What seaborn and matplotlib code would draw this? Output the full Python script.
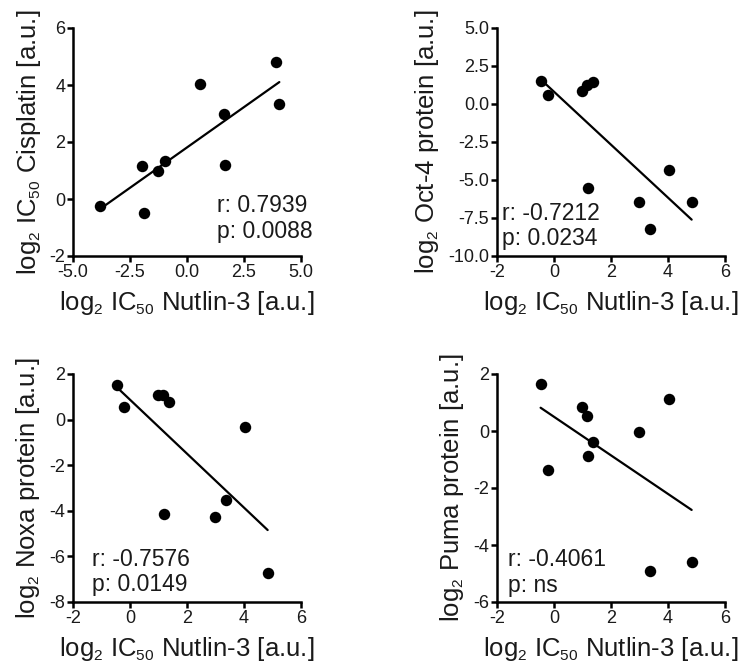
import matplotlib
matplotlib.use("Agg")
import matplotlib.pyplot as plt
import seaborn as sns
import numpy as np
import pandas as pd

try:
    import matplotlib._mathtext as _mt
    _mt.SHRINK_FACTOR = 0.6
except Exception:
    pass

# ---- data ----
x_cis = [-3.83, -1.98, -1.90, -1.26, -0.96, 0.56, 1.61, 1.66, 3.92, 4.05]
y_cis = [-0.24, 1.15, -0.49, 0.98, 1.35, 4.04, 3.00, 1.19, 4.82, 3.35]

x_nut = [-0.47, -0.22, 0.98, 1.15, 1.20, 1.37, 2.99, 3.36, 4.03, 4.83]
y_oct4 = [1.49, 0.57, 0.86, 1.25, -5.53, 1.45, -6.45, -8.25, -4.35, -6.45]
y_noxa = [1.53, 0.57, 1.06, 1.06, -4.15, 0.75, -4.25, -3.54, -0.31, -6.74]
y_puma = [1.66, -1.37, 0.84, 0.51, -0.87, -0.38, -0.04, -4.92, 1.13, -4.58]

ylabels = ["log$_2$ IC$_{50}$ Cisplatin [a.u.]", "log$_2$ Oct-4 protein [a.u.]",
           "log$_2$ Noxa protein [a.u.]", "log$_2$ Puma protein [a.u.]"]
xlabel = "log$_2$ IC$_{50}$ Nutlin-3 [a.u.]"
stats = [("r: 0.7939", "p: 0.0088"), ("r: -0.7212", "p: 0.0234"),
         ("r: -0.7576", "p: 0.0149"), ("r: -0.4061", "p: ns")]

xticks_cis = [-5.0, -2.5, 0.0, 2.5, 5.0]
xticks_nut = [-2, 0, 2, 4, 6]
yticks = [[-2, 0, 2, 4, 6], [5.0, 2.5, 0.0, -2.5, -5.0, -7.5, -10.0],
          [2, 0, -2, -4, -6, -8], [2, 0, -2, -4, -6]]

sns.set_theme(style="ticks")
plt.rcParams['font.family'] = ['Liberation Sans', 'DejaVu Sans']
plt.rcParams['mathtext.fontset'] = 'custom'
plt.rcParams['mathtext.rm'] = 'Liberation Sans'
plt.rcParams['mathtext.it'] = 'Liberation Sans'
plt.rcParams['mathtext.default'] = 'regular'
plt.rcParams['axes.unicode_minus'] = False

fig = plt.figure(figsize=(7.46, 6.68), dpi=100)
W, H = 746, 668
boxes = [(73, 28), (497, 28), (73, 374), (497, 374)]
axes = [fig.add_axes([l / W, 1 - (t + 228) / H, 228 / W, 228 / H]) for l, t in boxes]

datasets = [(x_cis, y_cis), (x_nut, y_oct4), (x_nut, y_noxa), (x_nut, y_puma)]
text_pos = [(0.632, 0.191, 0.081), (0.023, 0.16, 0.05), (0.085, 0.159, 0.048), (0.048, 0.156, 0.046)]
TXT = "#1a1a1a"

for i, ax in enumerate(axes):
    xs, ys = datasets[i]
    df = pd.DataFrame({"x": xs, "y": ys})
    sns.regplot(data=df, x="x", y="y", ax=ax, ci=None, truncate=True,
                scatter_kws=dict(s=68, color="black", edgecolor="black", linewidths=0, alpha=1, zorder=3),
                line_kws=dict(color="black", lw=1.6))
    xt = xticks_cis if i == 0 else xticks_nut
    ax.set_xticks(xt)
    ax.set_xlim(min(xt), max(xt))
    ax.set_yticks(yticks[i])
    ax.set_ylim(min(yticks[i]), max(yticks[i]))
    if i == 0:
        ax.set_xticklabels([f"{v:.1f}" for v in xt])
    elif i == 1:
        ax.set_yticklabels([f"{v:.1f}" for v in yticks[i]])
    sns.despine(ax=ax)
    for s in ("left", "bottom"):
        ax.spines[s].set_linewidth(1.8)
        ax.spines[s].set_color("black")
    ax.tick_params(axis="both", direction="out", length=4.5, width=1.8, color="black",
                   labelsize=13, labelcolor=TXT, pad=1)
    ax.set_xlabel(xlabel, fontsize=18.5, color=TXT, labelpad=6)
    ax.set_ylabel(ylabels[i], fontsize=18.5, color=TXT, labelpad=5)
    tx, ry, py = text_pos[i]
    ax.text(tx, ry, stats[i][0], transform=ax.transAxes, fontsize=16.5, va="baseline", ha="left", color=TXT)
    ax.text(tx, py, stats[i][1], transform=ax.transAxes, fontsize=16.5, va="baseline", ha="left", color=TXT)

fig.savefig("out.png", dpi=100)
